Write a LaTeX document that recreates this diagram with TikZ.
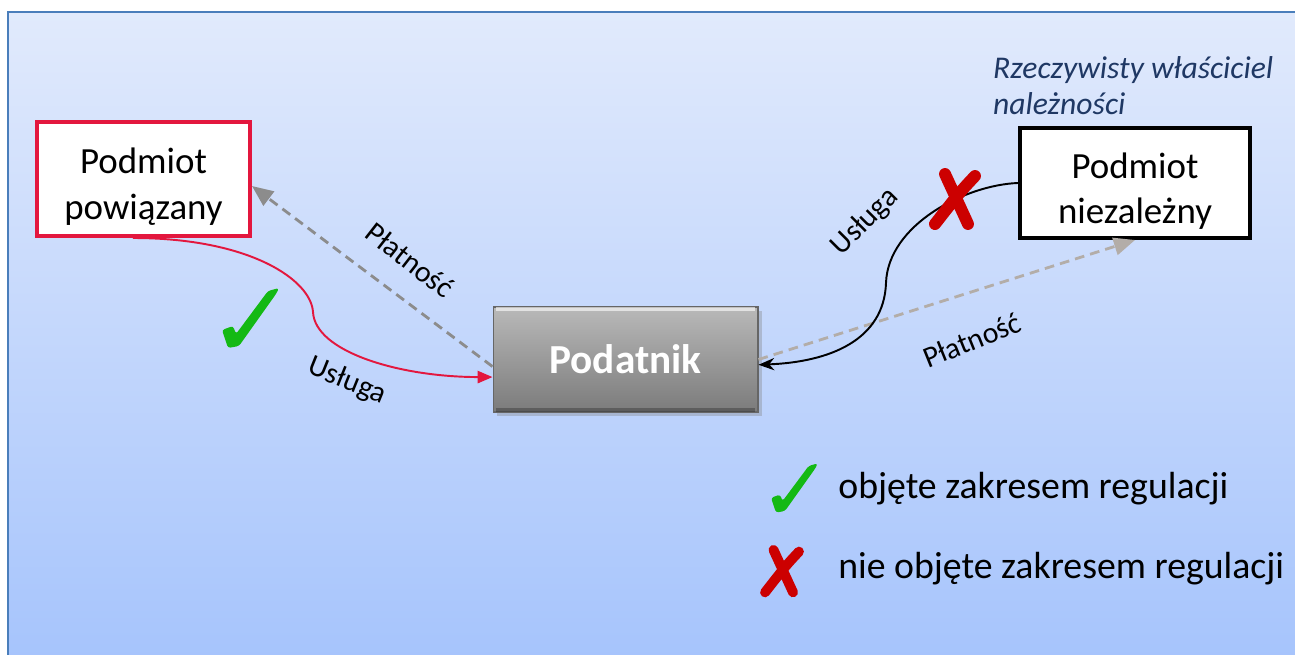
\documentclass[tikz,border=0pt]{standalone}
\usepackage{fontspec}
\setmainfont{Carlito}
\usepackage{tikz}
\usetikzlibrary{positioning,arrows.meta,shadows}

\definecolor{frameblue}{HTML}{4A7EBB}
\definecolor{bgtop}{HTML}{E1EAFC}
\definecolor{bgbottom}{HTML}{A6C4FC}
\definecolor{linkred}{HTML}{E3173E}
\definecolor{okgreen}{HTML}{14B914}
\definecolor{nored}{HTML}{CC0000}
\definecolor{ownerblue}{HTML}{1F3864}
\definecolor{paygray}{HTML}{8C8C8C}
\definecolor{paylight}{HTML}{B3ADA8}

\newcommand{\okmark}[3]{%
	\fill[okgreen, rounded corners=1.5pt, shift={(#1,#2)}, scale=#3]
		(-28,12) -- (-17,8) -- (-14,16) -- (18,-27) -- (29,-30) -- (26,-24) -- (-11,28) -- (-22,30) -- cycle;
}
\newcommand{\nomark}[4]{%
	\draw[nored, line width=#4, line cap=round, shift={(#1,#2)}, scale=#3]
		(-10,-26) -- (13,24)
		(20,-24) .. controls (5,-8) .. (-20,24);
}

\begin{document}
\begin{tikzpicture}[x=0.02cm, y=-0.02cm,
	entity/.style={rectangle, draw, fill=white, line width=2.3pt, align=center, font=\fontsize{21}{26}\selectfont},
	lbl/.style={font=\fontsize{17}{20}\selectfont},
	legend/.style={anchor=base west, inner sep=0pt, font=\fontsize{21.5}{25}\selectfont},
	pay/.style={dash pattern=on 5.5pt off 3.5pt, line width=1.6pt}]
	\useasboundingbox (0,0) rectangle (1295,655);
	\shade[top color=bgtop, bottom color=bgbottom] (8,12) rectangle (1300,660);
	\draw[frameblue, line width=1.2pt] (1300,12) -- (8,12) -- (8,660);

	\node[entity, draw=linkred, minimum width=4.26cm, minimum height=2.28cm, text height=49pt] at(143.5,179) (pp) {Podmiot\\powiązany};
	\node[entity, draw=black, minimum width=4.6cm, minimum height=2.2cm, text height=50pt] at(1135,183) (pn) {Podmiot\\niezależny};
	\node[rectangle, draw=gray!80!black, line width=0.6pt, top color=gray!55, bottom color=gray!85!black!90,
		minimum width=5.3cm, minimum height=2.1cm, drop shadow={opacity=0.35}, text=white,
		font=\fontsize{23.5}{28}\selectfont\bfseries] at(625.5,359.5) (pod) {Podatnik};
	\draw[white, opacity=0.6, line width=2pt]
		([xshift=2pt,yshift=-1.5pt]pod.north west) -- ([xshift=-2pt,yshift=-1.5pt]pod.north east);
	\draw[black, opacity=0.25, line width=2pt]
		([xshift=2pt,yshift=1.5pt]pod.south west) -- ([xshift=-2pt,yshift=1.5pt]pod.south east);

	\node[anchor=north west, align=left, text=ownerblue, font=\fontsize{18}{20.5}\selectfont\itshape] at(987,50) (owner) {Rzeczywisty właściciel\\należności};

	\draw[pay, paygray, -{Triangle[length=12pt,width=10pt]}] ([yshift=-4pt]pod.west) -- ([yshift=-4pt]pp.east);
	\draw[pay, paylight, -{Triangle[length=12pt,width=10pt]}] (pod.east) -- (pn.south);
	\draw[linkred, line width=1.1pt, -{Triangle[length=8.5pt,width=7pt]}]
		([xshift=-6pt]pp.south) .. controls (250,238) and (311,280) .. (313,312)
		.. controls (315,352) and (400,377) .. ([yshift=-10pt]pod.west);
	\draw[black, line width=1.1pt, -{Stealth[length=9pt,width=7pt]}]
		(pn.west) .. controls (965,185) and (888,225) .. (886,283)
		.. controls (884,340) and (830,362) .. ([yshift=-3pt]pod.east);

	\node[lbl, rotate=-38] at(410,260) (plL) {Płatność};
	\node[lbl, rotate=-22] at(347,381) (usL) {Usługa};
	\node[lbl, rotate=45] at(865,222) (usR) {Usługa};
	\node[lbl, rotate=22] at(972,340) (plR) {Płatność};

	\okmark{250}{318}{1}
	\nomark{955}{200}{1}{6.8pt}

	\okmark{794}{488}{0.82}
	\node[legend] at(838,498) (leg1) {objęte zakresem regulacji};
	\nomark{782}{572}{0.85}{5.6pt}
	\node[legend] at(838,578) (leg2) {nie objęte zakresem regulacji};
\end{tikzpicture}
\end{document}
